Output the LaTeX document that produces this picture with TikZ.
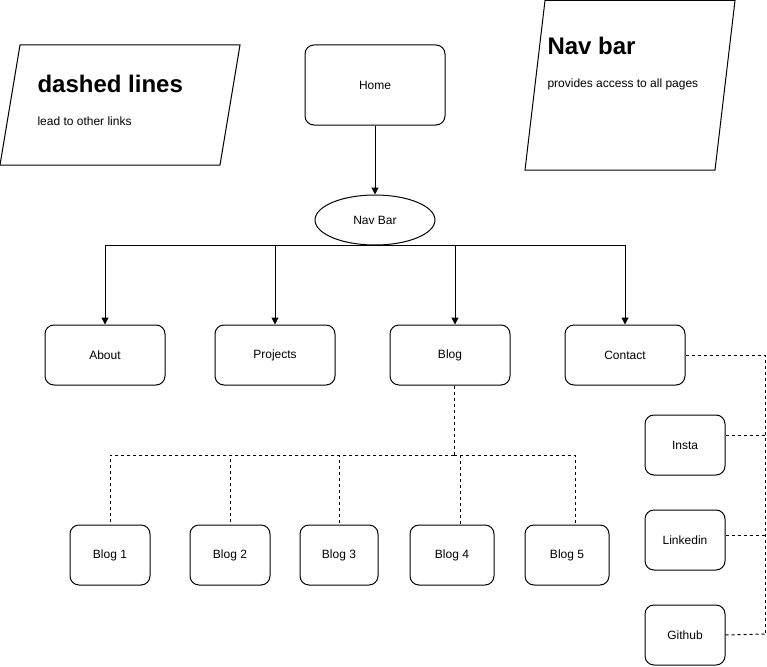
\documentclass[tikz,border=0pt]{standalone}
\usepackage{fontspec}
\setmainfont{Liberation Sans}
\usetikzlibrary{arrows.meta,shapes.geometric}
\begin{document}
\begin{tikzpicture}[x=1pt,y=-1pt,line width=1pt,
  box/.style={draw,rounded corners=9pt,font=\fontsize{12}{14}\selectfont,inner sep=0pt},
  arr/.style={draw,-{Triangle[length=7pt,width=7pt]}},
  dsh/.style={draw,dash pattern=on 3pt off 3pt},
  title/.style={anchor=west,inner sep=0pt,font=\fontsize{24}{28}\selectfont\bfseries},
  small/.style={anchor=west,inner sep=0pt,font=\fontsize{12}{14}\selectfont}]
\useasboundingbox (0,0) rectangle (767,666);
% parallelograms
\draw (20,45) -- (240,45) -- (220,165) -- (0,165) -- cycle;
\node[title] (t1) at (37,84) {dashed lines};
\node[small] (s1) at (37,121) {lead to other links};
\draw (545,0.5) -- (735,0.5) -- (715,170) -- (525,170) -- cycle;
\node[title] (t2) at (547,46) {Nav bar};
\node[small] (s2) at (547,84) {provides access to all pages};
% main nodes
\node[box,minimum width=140pt,minimum height=80pt] (home) at (375,85) {Home};
\node[draw,ellipse,minimum width=120pt,minimum height=50pt,inner sep=0pt,font=\fontsize{12}{14}\selectfont] (nav) at (375,220) {Nav Bar};
\node[box,minimum width=120pt,minimum height=60pt] (about) at (105,355) {About};
\node[box,minimum width=120pt,minimum height=60pt] (proj) at (275,355) {Projects};
\node[box,minimum width=120pt,minimum height=60pt] (blog) at (450,355) {Blog};
\node[box,minimum width=120pt,minimum height=60pt] (contact) at (625,355) {Contact};
% blogs
\node[box,minimum width=80pt,minimum height=60pt] (b1) at (110,555) {Blog 1};
\node[box,minimum width=80pt,minimum height=60pt] (b2) at (230,555) {Blog 2};
\node[box,minimum width=78pt,minimum height=60pt] (b3) at (339,555) {Blog 3};
\node[box,minimum width=84pt,minimum height=60pt] (b4) at (452,555) {Blog 4};
\node[box,minimum width=84pt,minimum height=60pt] (b5) at (567,555) {Blog 5};
% socials
\node[box,minimum width=80pt,minimum height=60pt] (insta) at (685,445) {Insta};
\node[box,minimum width=80pt,minimum height=60pt] (lnk) at (685,540) {Linkedin};
\node[box,minimum width=80pt,minimum height=60pt] (gh) at (685,635) {Github};
% connectors
\draw[arr] (home.south) -- (nav.north);
\draw[arr] (nav.south) -| (about.north);
\draw[arr] (nav.south) -| (proj.north);
\draw[arr] (nav.south) -| ([xshift=5pt]blog.north);
\draw[arr] (nav.south) -| (contact.north);
\coordinate (bj) at (454,455);
\draw[dsh] ([xshift=4pt]blog.south) -- (bj);
\draw[dsh] (bj) -| (b1.north);
\draw[dsh] (bj) -| (b2.north);
\draw[dsh] (bj) -| (b3.north);
\draw[dsh] (bj) -| ([xshift=8pt]b4.north);
\draw[dsh] (bj) -| ([xshift=8pt]b5.north);
\coordinate (rb) at (765,634);
\draw[dsh] (contact.east) -| (rb);
\draw[dsh] ([yshift=10pt]insta.east) -- ([yshift=10pt]insta.east -| rb);
\draw[dsh] ([yshift=5pt]lnk.east) -- ([yshift=5pt]lnk.east -| rb);
\draw[dsh] (gh.east) -- (rb);
\end{tikzpicture}
\end{document}
